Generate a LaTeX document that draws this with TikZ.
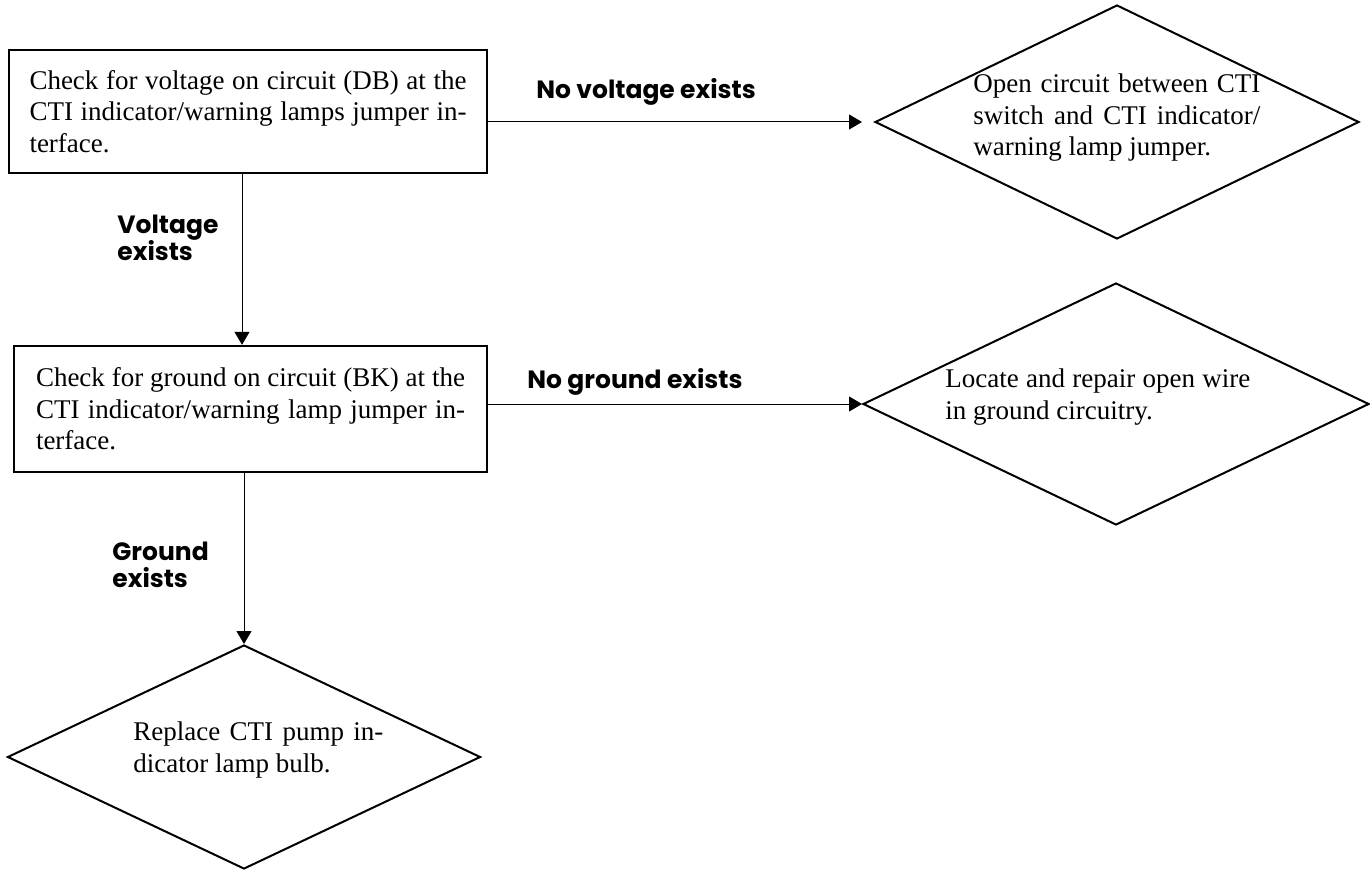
\documentclass[tikz,border=0pt]{standalone}
\usepackage{fontspec}
\setmainfont{Liberation Serif}
\setsansfont{Poppins}
\usepackage{tikz}
\usetikzlibrary{arrows.meta,shapes.geometric}
\tikzstyle{box} = [rectangle, draw, line width=1.2pt, align=justify, inner ysep=0pt, font=\fontsize{13.5}{15.75}\selectfont]
\tikzstyle{decision} = [diamond, draw, line width=1pt, inner sep=0pt]
\tikzstyle{txt} = [anchor=north west, inner sep=0pt, align=justify, font=\fontsize{13.5}{15.75}\selectfont]
\tikzstyle{lbl} = [inner sep=0pt, align=left, font=\sffamily\bfseries\fontsize{12.5}{13.5}\selectfont]
\tikzstyle{arr} = [draw, line width=.5pt, -{Triangle[length=6.5pt,width=7.5pt]}]

\begin{document}
\begin{tikzpicture}[x=.5pt,y=-.5pt]
      \useasboundingbox (0,0) rectangle (1370,872);
      \node[box, text width=218.5pt, inner xsep=10.25pt, minimum height=61.5pt] (chkvolt) at (248,111.5)
            {Check for voltage on circuit (DB) at the\linebreak CTI indicator/warning lamps jumper in-\linebreak terface.};
      \node[box, text width=214.5pt, inner xsep=11pt, minimum height=63pt] (chkgnd) at (250.5,409)
            {Check for ground on circuit (BK) at the\linebreak CTI indicator/warning lamp jumper in-\linebreak terface.};
      \node[decision, minimum width=242pt, minimum height=117pt]   (opencct) at (1117,122) {};
      \node[decision, minimum width=253pt, minimum height=121pt]   (repair)  at (1116,404) {};
      \node[decision, minimum width=236.5pt, minimum height=112pt] (bulb)    at (244,757)  {};
      \node[txt, text width=143.5pt] (opentxt)   at (973,73.4)
            {Open circuit between CTI\linebreak switch and CTI indicator/\linebreak warning lamp jumper.};
      \node[txt, text width=152.5pt] (repairtxt) at (945,368.6)
            {Locate and repair open wire\linebreak in ground circuitry.};
      \node[txt, text width=125pt]   (bulbtxt)   at (133,721.6)
            {Replace CTI pump in-\linebreak dicator lamp bulb.};
      \draw[arr] (chkvolt.east |- opencct.west) -- ([xshift=-6pt]opencct.west);
      \draw[arr] (chkgnd.east |- repair.west) -- (repair.west);
      \draw[arr] ([xshift=-3pt]chkvolt.south) -- ([xshift=-3pt]chkvolt.south |- chkgnd.north);
      \draw[arr] (chkgnd.south -| bulb.north) -- (bulb.north);
      \node[lbl, anchor=base west]  (novolt) at (536,99)  {No voltage exists};
      \node[lbl, anchor=base west]  (nognd)  at (527,388) {No ground exists};
      \node[lbl, anchor=north west] (volt)   at (117,215) {Voltage\\exists};
      \node[lbl, anchor=north west] (gnd)    at (112,542) {Ground\\exists};
\end{tikzpicture}
\end{document}
